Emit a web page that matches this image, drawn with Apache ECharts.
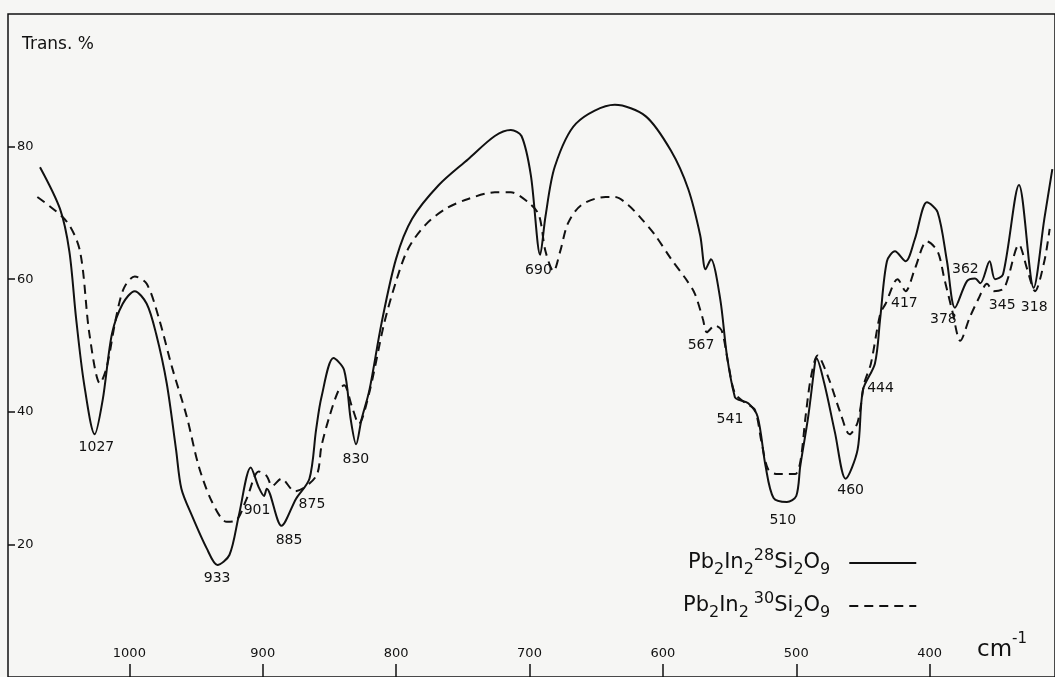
<!DOCTYPE html>
<html>
<head>
<meta charset="utf-8">
<script src="https://cdn.jsdelivr.net/npm/echarts@6/dist/echarts.min.js"></script>
<style>
  html, body { margin: 0; padding: 0; background: #f6f6f4; }
  #chart-container { width: 1055px; height: 677px; }
</style>
</head>
<body>
<div id="chart-container"></div>
<script>
// wavenumbers (cm-1) and transmission (%)
const solidWn = [1067, 1052, 1045, 1040, 1034, 1026, 1020, 1013, 1005, 996, 987, 980, 972, 965, 961, 953, 942, 934, 925, 918,
  909, 903, 899, 897, 886, 875, 865, 860, 856, 847, 839, 834, 830, 826, 820, 811, 800, 788, 768, 746,
  726, 714, 706, 699, 692, 688, 681, 665, 636, 613, 594, 581, 572, 568, 564, 557, 552, 546, 543, 536,
  529, 523, 517, 507, 500, 497, 491, 486, 485, 479, 471, 463, 454, 450, 441, 437, 432, 426, 418, 411,
  402, 394, 387, 381, 372, 366, 362, 355, 351, 345, 333, 322, 314, 308];
const solidT = [76.9, 70.6, 64.2, 54.2, 44.3, 36.6, 41.8, 51.8, 56.3, 58.2, 56.3, 51.8, 44.3, 34.3, 28.4, 24.3, 19.4, 16.9, 18.4, 24.3,
  31.6, 28.6, 27.3, 28.4, 22.8, 26.9, 29.9, 37.3, 42.2, 48.1, 46.3, 38.8, 35.1, 38.8, 43.3, 53.3, 63.1, 69.1, 74.2, 78.1,
  81.6, 82.5, 81.6, 75.7, 63.7, 69.5, 77.0, 83.5, 86.3, 84.6, 79.4, 73.6, 66.6, 61.5, 63.0, 57.0, 48.5, 42.2, 41.8, 41.3,
  39.3, 31.8, 27.0, 26.4, 27.3, 31.8, 39.3, 47.3, 48.1, 44.3, 36.9, 29.9, 34.3, 43.3, 47.3, 54.2, 62.7, 64.2, 62.7, 66.1,
  71.6, 70.1, 62.7, 55.7, 59.7, 60.1, 59.4, 62.7, 60.0, 60.7, 74.2, 58.7, 69.1, 76.6];

const dashedWn = [1069, 1047, 1037, 1030, 1022, 1017, 1010, 1004, 996, 987, 978, 968, 957, 948, 938, 927, 920, 912, 903, 897,
  893, 886, 876, 860, 856, 850, 843, 839, 833, 828, 820, 809, 800, 791, 778, 763, 746, 726, 714, 701,
  693, 688, 682, 677, 671, 661, 643, 636, 626, 616, 606, 594, 583, 576, 570, 567, 561, 556, 551, 546,
  538, 531, 526, 521, 514, 501, 497, 493, 489, 484, 476, 467, 460, 454, 449, 444, 437, 433, 424, 418,
  411, 402, 394, 389, 383, 377, 370, 363, 357, 352, 344, 333, 327, 321, 314, 310];
const dashedT = [72.4, 68.7, 64.2, 51.8, 44.3, 46.7, 54.2, 58.7, 60.4, 59.3, 54.2, 46.7, 39.3, 31.8, 26.4, 23.4, 23.6, 26.9, 31.0, 30.3,
  28.8, 29.9, 28.0, 30.3, 34.8, 39.3, 43.3, 44.0, 40.7, 38.2, 43.0, 53.3, 59.7, 64.6, 68.2, 70.6, 72.1, 73.1, 73.1, 71.6,
  69.7, 64.2, 61.2, 64.2, 68.5, 71.2, 72.4, 72.4, 71.2, 69.1, 66.7, 63.1, 60.1, 57.8, 54.0, 52.0, 53.0, 52.3, 47.3, 42.8,
  41.3, 40.3, 35.4, 31.3, 30.6, 30.6, 32.4, 39.3, 45.2, 48.5, 45.2, 39.9, 36.6, 38.4, 44.3, 47.3, 54.8, 56.3, 60.0, 58.2,
  61.6, 65.7, 64.2, 60.1, 55.2, 50.7, 54.2, 57.2, 59.3, 58.2, 58.7, 65.2, 61.6, 58.2, 62.7, 67.6];

// band labels and where they sit
const peakNames = ['1027', '933', '901', '885', '875', '830', '690', '567', '541', '510', '460', '444', '417', '378', '362', '345', '318'];
const peakWn = [1024.7, 934.2, 904.3, 880.3, 863.1, 830.2, 693.3, 571.4, 549.7, 510.1, 459.2, 436.8, 418.9, 389.7, 373.2, 345.6, 321.6];
const peakT = [34.6, 14.9, 25.1, 20.6, 26.1, 32.8, 61.3, 50.0, 38.8, 23.6, 28.1, 43.6, 56.3, 54.0, 61.5, 56.0, 55.7];

const xTicks = [1000, 900, 800, 700, 600, 500, 400];
const yTicks = [20, 40, 60, 80];

const nameSolid = 'Pb2In2 28Si2O9';
const nameDashed = 'Pb2In2 30Si2O9';

const ink = '#111111';
const font = 'DejaVu Sans';

const myChart = echarts.init(document.getElementById('chart-container'));

myChart.setOption({
  backgroundColor: '#f6f6f4',
  animation: false,
  textStyle: { fontFamily: font, color: ink },
  grid: {
    left: 8, right: -3, top: 14, bottom: -3,
    show: true, borderColor: ink, borderWidth: 1.5
  },
  xAxis: {
    type: 'value',
    inverse: true,
    min: 306,
    max: 1091,
    splitLine: { show: false },
    axisLine: { show: false },
    axisTick: { inside: true, length: 13, customValues: xTicks, lineStyle: { color: ink, width: 1.5 } },
    axisLabel: {
      inside: true, margin: 17, customValues: xTicks, fontSize: 13, color: ink,
      formatter: v => String(v)
    }
  },
  yAxis: {
    type: 'value',
    min: 0,
    max: 100,
    splitLine: { show: false },
    axisLine: { show: false },
    axisTick: { inside: true, length: 7, customValues: yTicks, lineStyle: { color: ink, width: 1.5 } },
    axisLabel: { inside: true, margin: 9, customValues: yTicks, fontSize: 13, color: ink }
  },
  legend: {
    orient: 'vertical',
    left: 683,
    top: 548,
    padding: 0,
    align: 'right',
    itemWidth: 67,
    itemHeight: 14,
    itemGap: 13,
    itemStyle: { opacity: 0 },
    data: [nameSolid, nameDashed],
    formatter: function (name) {
      const iso = name === nameSolid ? '28' : '30';
      const gap = name === nameSolid ? '' : '{sp|}';
      return '{b|Pb}{s|2}{b|In}{s|2}' + gap + '{p|' + iso + '}{b|Si}{s|2}{b|O}{s|9}{g|}';
    },
    textStyle: {
      color: ink,
      rich: {
        b: { fontSize: 21, fontFamily: font, color: ink, lineHeight: 30, verticalAlign: 'middle' },
        s: { fontSize: 16, fontFamily: font, color: ink, lineHeight: 16, verticalAlign: 'bottom' },
        p: { fontSize: 16, fontFamily: font, color: ink, lineHeight: 16, verticalAlign: 'top' },
        sp: { width: 5 },
        g: { width: 14 }
      }
    }
  },
  graphic: [
    {
      type: 'text', left: 22, top: 36,
      style: { text: 'Trans. %', fontSize: 17, fontFamily: font, fill: ink }
    },
    {
      type: 'text', left: 977, top: 632,
      style: {
        text: '{a|cm}{b|-1}',
        rich: {
          a: { fontSize: 23, fontFamily: font, fill: ink, lineHeight: 30, verticalAlign: 'bottom' },
          b: { fontSize: 15, fontFamily: font, fill: ink, lineHeight: 18, verticalAlign: 'top' }
        }
      }
    }
  ],
  series: [
    {
      name: nameSolid,
      type: 'line',
      smooth: 0.3,
      symbol: 'none',
      data: solidWn.map((w, i) => [w, solidT[i]]),
      lineStyle: { color: ink, width: 2 },
      itemStyle: { color: ink }
    },
    {
      name: nameDashed,
      type: 'line',
      smooth: 0.3,
      symbol: 'none',
      data: dashedWn.map((w, i) => [w, dashedT[i]]),
      lineStyle: { color: ink, width: 2, type: [9, 6] },
      itemStyle: { color: ink }
    },
    {
      name: 'bands',
      type: 'scatter',
      symbolSize: 1,
      itemStyle: { color: 'rgba(0,0,0,0)' },
      data: peakWn.map((w, i) => [w, peakT[i]]),
      label: {
        show: true,
        position: 'inside',
        fontSize: 14,
        fontFamily: font,
        color: ink,
        opacity: 1,
        textBorderWidth: 0,
        formatter: p => peakNames[p.dataIndex]
      }
    }
  ]
});
</script>
</body>
</html>
